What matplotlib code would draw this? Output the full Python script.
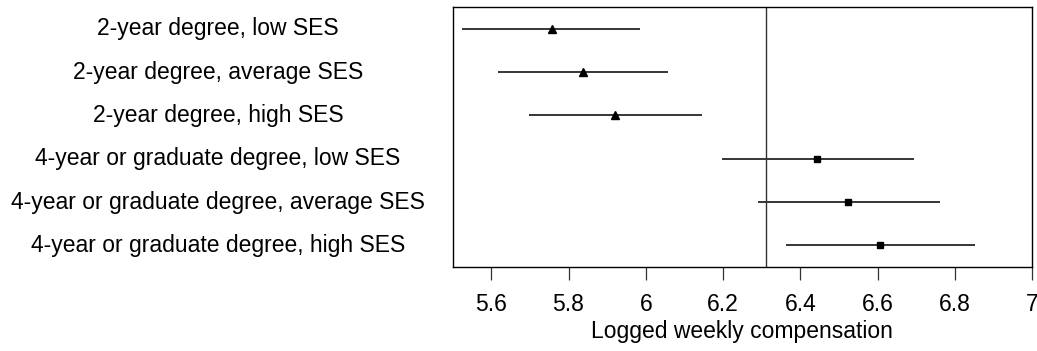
import matplotlib
matplotlib.use("Agg")
import matplotlib.pyplot as plt

plt.rcParams['font.family'] = ['Liberation Sans', 'DejaVu Sans']

labels = [
    "2-year degree, low SES",
    "2-year degree, average SES",
    "2-year degree, high SES",
    "4-year or graduate degree, low SES",
    "4-year or graduate degree, average SES",
    "4-year or graduate degree, high SES",
]
estimates = [5.758, 5.838, 5.920, 6.444, 6.524, 6.607]
lower = [5.524, 5.618, 5.698, 6.197, 6.290, 6.364]
upper = [5.985, 6.058, 6.146, 6.694, 6.762, 6.852]
markers = ["^", "^", "^", "s", "s", "s"]
ref_value = 6.31
xticks = [5.6, 5.8, 6.0, 6.2, 6.4, 6.6, 6.8, 7.0]
xticklabels = ["5.6", "5.8", "6", "6.2", "6.4", "6.6", "6.8", "7"]

FS = 16.5

fig = plt.figure(figsize=(10.37, 3.51), dpi=100)
ax = fig.add_axes([0.4365, 0.2393, 0.9952 - 0.4365, 0.98 - 0.2393])

ys = list(range(1, len(labels) + 1))
for y, est, lo, hi, m in zip(ys, estimates, lower, upper, markers):
    ax.plot([lo, hi], [y, y], color="black", lw=1.1, solid_capstyle="butt")
    ax.plot([est], [y], marker=m, color="black", markersize=6.0 if m == "^" else 5.0,
            linestyle="none")

ax.axvline(ref_value, color="#333333", lw=1.0)

ax.set_xlim(5.5, 7.0)
ax.set_ylim(6.5, 0.5)
ax.set_xticks(xticks)
ax.set_xticklabels(xticklabels, fontsize=FS)
ax.tick_params(axis="x", length=9.5, width=0.9, pad=9, color="#333333")
ax.set_yticks([])
for y, lab in zip(ys, labels):
    ax.text(-0.405, y, lab, transform=ax.get_yaxis_transform(), ha="center",
            va="center", fontsize=FS)
for s in ax.spines.values():
    s.set_linewidth(1.0)
ax.set_xlabel("Logged weekly compensation", fontsize=FS, labelpad=3)

fig.savefig("out.png", dpi=100)
